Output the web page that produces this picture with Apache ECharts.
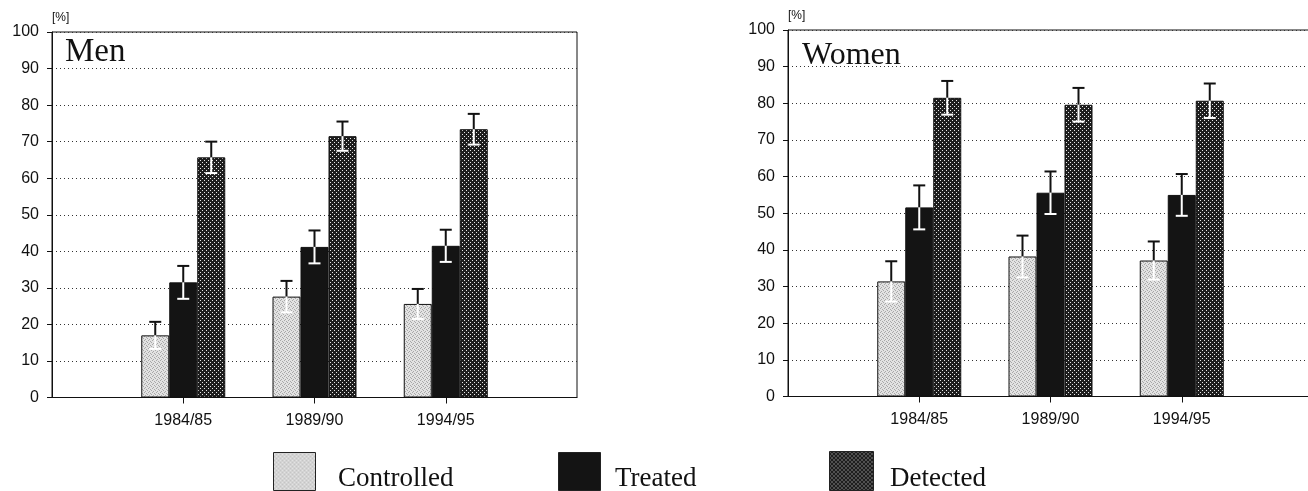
<!DOCTYPE html>
<html><head><meta charset="utf-8">
<script src="https://cdn.jsdelivr.net/npm/echarts@6/dist/echarts.min.js"></script>
<style>html,body{margin:0;padding:0;background:#fff}#c{width:1308px;height:491px}</style>
</head><body><div id="c"></div>
<script>
// ---- data ----
const categories = ['1984/85', '1989/90', '1994/95'];
const seriesNames = ['Controlled', 'Treated', 'Detected'];
const panelTitles = ['Men', 'Women'];
const yUnit = '[%]';
const yMin = 0, yMax = 100, yStep = 10;

const menControlled = [17.0, 27.6, 25.6];
const menControlledErr = [3.7, 4.3, 4.1];
const menTreated = [31.5, 41.2, 41.5];
const menTreatedErr = [4.5, 4.5, 4.4];
const menDetected = [65.7, 71.5, 73.4];
const menDetectedErr = [4.3, 4.0, 4.2];

const womenControlled = [31.4, 38.2, 37.1];
const womenControlledErr = [5.5, 5.7, 5.2];
const womenTreated = [51.6, 55.6, 55.0];
const womenTreatedErr = [6.0, 5.8, 5.7];
const womenDetected = [81.5, 79.6, 80.7];
const womenDetectedErr = [4.6, 4.6, 4.7];

// ---- patterns ----
function makePattern(size, bg, dots, dotColor) {
  const cv = document.createElement('canvas');
  cv.width = size; cv.height = size;
  const ctx = cv.getContext('2d');
  ctx.fillStyle = bg; ctx.fillRect(0, 0, size, size);
  ctx.fillStyle = dotColor;
  dots.forEach(d => ctx.fillRect(d[0], d[1], 1, 1));
  return cv;
}
const controlledPat = makePattern(4, '#e2e2e2', [[0,0],[2,1],[1,3],[3,2]], '#a8a8a8');
const detectedPat = makePattern(4, '#1e1e1e', [[0,0],[2,2]], '#e8e8e8');
const fills = [
  { image: controlledPat, repeat: 'repeat' },
  '#141414',
  { image: detectedPat, repeat: 'repeat' }
];

const SANS = "'Liberation Sans', Arial, sans-serif";
const SERIF = "'Liberation Serif', 'Times New Roman', serif";
const BAR_W = 28;

const axisCats = [''].concat(categories, ['']);
function pad(arr) { return [null].concat(arr, [null]); }

const panels = [
  { vals: [menControlled, menTreated, menDetected], errs: [menControlledErr, menTreatedErr, menDetectedErr] },
  { vals: [womenControlled, womenTreated, womenDetected], errs: [womenControlledErr, womenTreatedErr, womenDetectedErr] }
];

function errRender(offset) {
  return function (params, api) {
    const i = api.value(0), v = api.value(1), e = api.value(2);
    const c = api.coord([i, v]);
    const t = api.coord([i, v + e]);
    const b = api.coord([i, v - e]);
    const x = c[0] + offset, hw = 6;
    return {
      type: 'group', children: [
        { type: 'line', shape: { x1: x, y1: c[1], x2: x, y2: t[1] }, style: { stroke: '#111', lineWidth: 2 } },
        { type: 'line', shape: { x1: x - hw, y1: t[1], x2: x + hw, y2: t[1] }, style: { stroke: '#111', lineWidth: 2 } },
        { type: 'line', shape: { x1: x, y1: c[1], x2: x, y2: b[1] }, style: { stroke: '#fff', lineWidth: 2 } },
        { type: 'line', shape: { x1: x - hw, y1: b[1], x2: x + hw, y2: b[1] }, style: { stroke: '#fff', lineWidth: 2 } }
      ]
    };
  };
}

const grids = [
  { left: 52, right: 731, top: 32, bottom: 93.5 },
  { left: 788, right: -5, top: 30, bottom: 94.5 }
].map(g => Object.assign(g, { show: true, borderColor: '#111', borderWidth: 1, backgroundColor: 'transparent', containLabel: false, outerBoundsMode: 'none' }));

const xAxes = [0, 1].map(gi => ({
  type: 'category', gridIndex: gi, data: axisCats, boundaryGap: false,
  axisLine: { show: true, lineStyle: { color: '#111', width: 1 } },
  axisTick: { show: true, length: 6, interval: (idx) => idx >= 1 && idx <= categories.length, lineStyle: { color: '#111' } },
  axisLabel: { interval: 0, fontSize: 16, fontFamily: SANS, color: '#111', margin: 15 },
  splitLine: { show: false }
}));

const yAxes = [0, 1].map(gi => ({
  type: 'value', gridIndex: gi, min: yMin, max: yMax, interval: yStep,
  name: yUnit, nameLocation: 'end', nameGap: 8,
  nameTextStyle: { fontSize: 12, fontFamily: SANS, color: '#111', align: 'left', verticalAlign: 'bottom' },
  axisLine: { show: true, lineStyle: { color: '#111', width: 1 } },
  axisTick: { show: true, length: 5, lineStyle: { color: '#111' } },
  axisLabel: { fontSize: 16, fontFamily: SANS, color: '#111', margin: 13 },
  splitLine: { show: true, lineStyle: { color: '#333', width: 1, type: [1, 3] } }
}));

const series = [];
panels.forEach((p, gi) => {
  seriesNames.forEach((name, k) => {
    series.push({
      type: 'bar', name: name, xAxisIndex: gi, yAxisIndex: gi,
      data: pad(p.vals[k]), barWidth: BAR_W, barGap: '0%',
      itemStyle: { color: fills[k], borderColor: '#111', borderWidth: 1 },
      emphasis: { disabled: true }, animation: false, z: 2
    });
  });
  seriesNames.forEach((name, k) => {
    series.push({
      type: 'custom', name: name + ' error', xAxisIndex: gi, yAxisIndex: gi,
      data: categories.map((c, j) => [j + 1, p.vals[k][j], p.errs[k][j]]),
      encode: { x: 0, y: 1 },
      renderItem: errRender((k - 1) * BAR_W), z: 5, animation: false, silent: true
    });
  });
});

// legend drawn as graphic elements
const legendPos = [
  { box: [273, 452, 42, 38], tx: 338 },
  { box: [558, 452, 42, 38], tx: 615 },
  { box: [829, 451, 44, 39], tx: 890 }
];
const graphic = [];
seriesNames.forEach((name, k) => {
  const lp = legendPos[k];
  graphic.push({ type: 'rect', left: lp.box[0], top: lp.box[1], shape: { width: lp.box[2], height: lp.box[3] },
    style: { fill: fills[k], stroke: '#222', lineWidth: 1 } });
  graphic.push({ type: 'text', left: lp.tx, top: 465,
    style: { text: name, fontSize: 27, fontFamily: SERIF, fill: '#111' } });
});

const option = {
  animation: false,
  backgroundColor: '#fff',
  title: [
    { text: panelTitles[0], left: 65, top: 36, padding: 0, textStyle: { fontSize: 33, fontFamily: SERIF, fontWeight: 'normal', color: '#111' } },
    { text: panelTitles[1], left: 802, top: 40, padding: 0, textStyle: { fontSize: 32, fontFamily: SERIF, fontWeight: 'normal', color: '#111' } }
  ],
  grid: grids, xAxis: xAxes, yAxis: yAxes, series: series, graphic: graphic,
  tooltip: { show: false }
};
const chart = echarts.init(document.getElementById('c'), null, { renderer: 'canvas' });
chart.setOption(option);
</script></body></html>
